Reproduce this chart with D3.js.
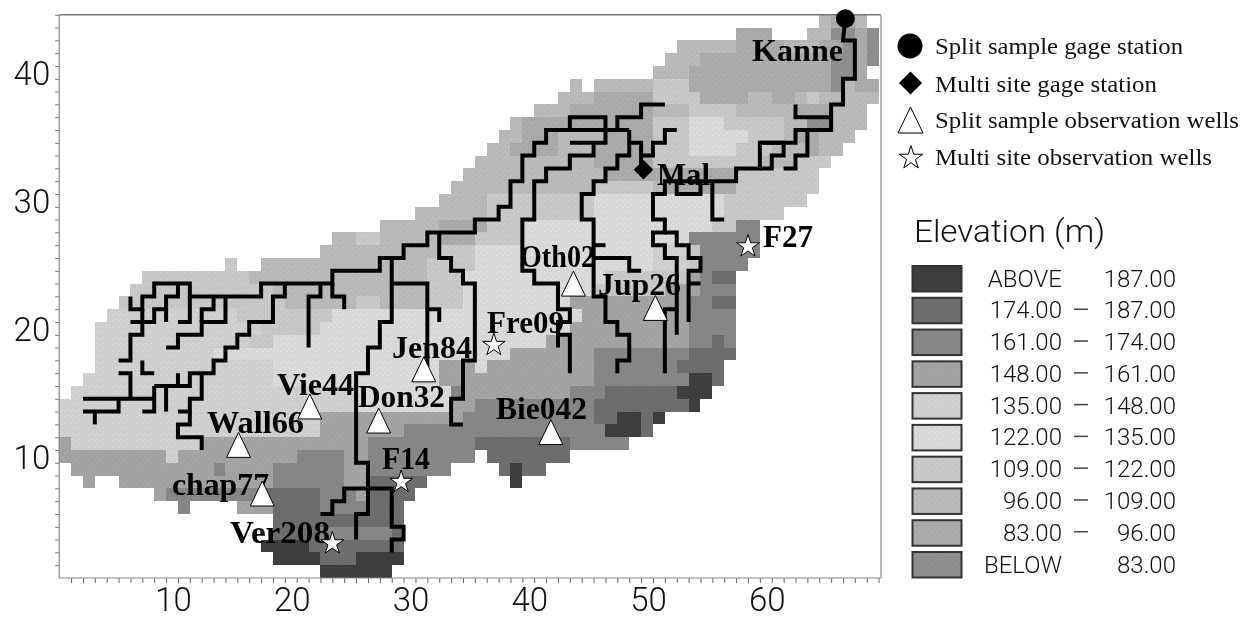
<!DOCTYPE html>
<html>
<head>
<meta charset="utf-8">
<style>
  html, body { margin: 0; background: #fff; }
  svg { display: block; filter: blur(0.45px); }
  .tick-num { font: 300 33px Roboto, sans-serif; fill: #111; }
  .well-label { font: bold 30.5px "Liberation Serif", serif; fill: #000; }
  .key-label { font: 24px "Liberation Serif", serif; fill: #111; }
  .range-label { font: 300 24px Roboto, sans-serif; fill: #111; }
  .domain { display: none; }
</style>
<script src="https://cdn.jsdelivr.net/npm/d3@7"></script>
</head>
<body>
<svg id="chart" width="1251" height="619"></svg>
<script>
// elevation classes, top of the legend first
const classKeys = ["A", "B", "C", "D", "E", "F", "G", "H", "I", "J"]
const classLow = ["ABOVE", "174.00", "161.00", "148.00", "135.00", "122.00", "109.00", "96.00", "83.00", "BELOW"]
const classHigh = ["187.00", "187.00", "174.00", "161.00", "148.00", "135.00", "122.00", "109.00", "96.00", "83.00"]

// grid: first column, then class+run length ("." is no data). Index 0 is the bottom row
const gridRows = [
  "22 A6",
  "18 A4 B3 A4",
  "17 A4 B8",
  "18 B4 C6 B1",
  "18 B11",
  "10 C1 .4 D3 B4 C4 B3",
  "8 D1 C3 C5 B5 C3 D1 B4",
  "2 D1 .2 D13 C6 D2 B5 .7 A1",
  "1 D12 C1 D4 C6 D2 C7 .4 B1 A1 B2",
  "0 D9 E1 D10 C4 D2 C9 .1 B7",
  "0 D1 E11 D14 C3 C6 B8 C5",
  "0 E22 D7 C17 A3 B1",
  "0 E22 D12 C11 B2 A2 B1 A1",
  "0 E25 F8 D2 C10 B8 A1",
  "1 E24 F8 C1 D9 C3 B6 A3",
  "2 E16 F14 D2 D11 C8 A2 B1",
  "3 E15 F14 D3 F1 D9 C7 B4",
  "3 E10 F25 D7 C8 B4",
  "3 E13 G2 F23 D12 C2 B1 C1",
  "3 E14 G5 F21 D10 C4",
  "4 E11 G8 F10 F11 D2 D7 C4",
  "5 G14 H6 G2 H4 G3 F9 D10 C2 B2",
  "6 G12 H13 G3 F11 G6 D2 D1 C1 C2",
  "7 G9 H15 G3 F12 G7 D1 C1 B2",
  "14 G1 .2 H14 G4 F15 E3 G1 C4",
  "22 H10 G3 F15 E3 G1 C5",
  "23 H2 G2 H5 I3 G4 F14 C6",
  "27 H5 I4 G3 F6 F5 F5 G2 C2",
  "30 H6 G9 F5 F6 G5",
  "32 H4 G9 F5 F6 G7",
  "33 H12 G5 H1 I6 G7",
  "34 H12 I11 G7",
  "35 H10 I5 G4 G5 H3 G3",
  "36 H2 I4 H3 I5 G3 F4 G3 H3 I1 H2",
  "37 H2 I3 H4 I4 G3 F5 G3 H1 I2 H3",
  "38 H1 I8 I3 G3 F3 G5 H2 J2 H3",
  "40 H3 I7 H3 G4 H5 I3 H3",
  "42 H3 I5 G4 I4 H2 I2 H1 G1 H5",
  "43 H1 .1 H5 G3 I9 I3 J1 H1 I2",
  "50 H3 I12 J2 I1",
  "51 H3 I11 J2 I1 J1",
  "52 H5 I4 H3 I2 J1 I1 J1",
  "57 I3 .3 H2 J2 I1 J1",
  "64 H1 I2 H1"
]

// stream network as [x, y] grid nodes
const streams = [
  [[66.2, 43.7], [66, 42], [67, 42], [67, 39], [66, 39], [66, 37], [65, 37], [65, 35], [62, 35], [62, 34], [59, 34], [59, 32], [57, 32], [57, 31], [51, 31], [51, 30], [50, 30], [50, 28], [51, 28], [51, 27], [50, 27], [50, 26], [51, 26], [51, 25], [52, 25], [52, 21], [51, 21], [51, 16]],
  [[63, 35], [63, 33], [62, 33], [62, 32], [61, 32]],
  [[59, 34], [61, 34], [61, 33], [60, 33], [60, 32], [59, 32]],
  [[62, 37], [62, 36], [65, 36]],
  [[55, 31], [55, 28], [56, 28]],
  [[52, 31], [52, 30], [54, 30], [54, 31]],
  [[51, 27], [52, 27], [52, 26], [53, 26], [53, 25], [54, 25], [54, 24], [53, 24], [53, 23], [54, 23]],
  [[53, 23], [53, 20]],
  [[52, 21], [52, 19]],
  [[49, 32], [49, 34], [48, 34]],
  [[49, 33], [50, 33], [50, 34], [51, 34], [51, 35], [52, 35]],
  [[47, 35], [47, 36], [49, 36], [49, 37], [51, 37]],
  [[48, 35], [48, 33], [47, 33], [47, 32], [46, 32], [46, 31], [45, 31], [45, 30], [44, 30], [44, 28], [45, 28], [45, 22], [46, 22], [46, 20], [47, 20], [47, 19], [48, 19], [48, 17], [47, 17], [47, 16]],
  [[45, 26], [46, 26]],
  [[45, 25], [48, 25], [48, 24], [49, 24]],
  [[43, 35], [43, 36], [46, 36], [46, 34], [43, 34]],
  [[45, 34], [45, 33], [43, 33], [43, 32], [41, 32], [41, 31], [40, 31], [40, 28], [39, 28], [39, 24], [40, 24], [40, 23], [42, 23], [42, 21], [43, 21], [43, 20], [42, 20], [42, 18]],
  [[42, 19], [43, 19], [43, 16]],
  [[48, 35], [41, 35], [41, 34], [40, 34], [40, 33], [39, 33], [39, 31], [38, 31], [38, 29], [37, 29], [37, 28], [35, 28], [35, 27], [31, 27], [31, 26], [29, 26], [29, 25], [27, 25], [27, 24], [23, 24], [23, 23], [17, 23], [17, 22], [11, 22], [11, 23], [8, 23], [8, 22], [7, 22], [7, 21], [6, 21], [6, 22]],
  [[32, 27], [32, 25], [33, 25], [33, 24], [34, 24], [34, 23], [35, 23], [35, 17], [34, 17], [34, 14], [33, 14], [33, 12], [34, 12]],
  [[28, 25], [28, 20], [27, 20], [27, 18], [26, 18], [26, 16], [25, 16], [25, 9], [26, 9], [26, 5], [25, 5], [25, 3]],
  [[26, 7], [24, 7], [24, 6], [23, 6], [23, 5], [22, 5]],
  [[26, 7], [28, 7], [28, 4], [29, 4], [29, 3], [28, 3], [28, 2]],
  [[28, 23], [31, 23], [31, 16.5]],
  [[31, 21], [32, 21], [32, 20]],
  [[23, 23], [23, 22], [24, 22], [24, 21]],
  [[22, 23], [22, 22], [21, 22], [21, 18]],
  [[19, 23], [19, 22], [18, 22], [18, 20], [16, 20], [16, 19], [15, 19], [15, 18], [14, 18], [14, 17], [13, 17], [13, 16], [11, 16], [11, 15], [8, 15]],
  [[12, 16], [12, 14], [11, 14], [11, 13], [10, 13]],
  [[11, 13], [11, 12], [10, 12], [10, 11], [12, 11], [12, 10]],
  [[10, 16], [10, 15]],
  [[9, 15], [9, 13]],
  [[8, 15], [8, 13], [7, 13]],
  [[8, 16], [7, 16], [7, 17]],
  [[2, 14], [8, 14]],
  [[2, 13], [5, 13], [5, 14]],
  [[3, 13], [3, 12]],
  [[6, 14], [6, 16], [5, 16]],
  [[5, 17], [6, 17], [6, 19], [7, 19], [7, 21]],
  [[7, 20], [6, 20]],
  [[7, 20], [8, 20], [8, 21], [9, 21], [9, 22], [10, 22], [10, 23]],
  [[9, 21], [9, 20]],
  [[9, 18], [10, 18], [10, 19], [12, 19], [12, 20], [14, 20], [14, 22]],
  [[10, 20], [11, 20], [11, 22]],
  [[12, 20], [12, 21], [13, 21], [13, 22]]
]

// sites
const gageNames = ["Kanne", "Mal"]
const gageTypes = ["split", "multi"]
const gageX = [66.2, 49.2]
const gageY = [43.7, 31.9]

const wellNames = ["Oth02", "Jup26", "Jen84", "Vie44", "Don32", "Wall66", "chap77", "Bie042", "Fre09", "F14", "Ver208", "F27"]
const wellTypes = ["split", "split", "split", "split", "split", "split", "split", "split", "multi", "multi", "multi", "multi"]
const wellX = [43.3, 50.2, 30.7, 21.1, 26.9, 15.1, 17.1, 41.4, 36.6, 28.8, 23, 58]
const wellY = [23, 21.1, 16.3, 13.4, 12.3, 10.4, 6.6, 11.4, 18.2, 7.5, 2.7, 25.9]

const keyLabels = ["Split sample gage station", "Multi site gage station", "Split sample observation wells", "Multi site observation wells"]

// layout, not data
const classFill = { A: "#3d3d3d", B: "#6c6c6c", C: "#858585", D: "#a2a2a2", E: "#cecece", F: "#d8d8d8", G: "#c6c6c6", H: "#b8b8b8", I: "#a9a9a9", J: "#8d8d8d" }
const labelBox = {
  Kanne: [752, 60.7, 91], Mal: [657, 185, 53], F27: [763, 246.7, 50], Oth02: [520, 266.7, 75], Jup26: [598, 295, 83],
  Fre09: [487, 333, 77], Jen84: [392, 357.7, 80], Vie44: [277, 395, 77], Don32: [358, 406.7, 87], Wall66: [207, 432.7, 97],
  chap77: [172, 495, 97], F14: [382, 469, 48], Ver208: [230, 542.7, 100], Bie042: [496, 419, 91]
}

const svg = d3.select("#chart")
const x = d3.scaleLinear().domain([0, 69.2]).range([59.2, 881])
const y = d3.scaleLinear().domain([0, 44]).range([578, 14.8])

// expand the run lengths into cells
const cells = []
gridRows.forEach((row, r) => {
  const parts = row.split(" ")
  let col = +parts[0]
  parts.slice(1).forEach((p) => {
    const n = +p.slice(1)
    if (p[0] !== ".") d3.range(n).forEach((k) => cells.push({ col: col + k, row: r, key: p[0] }))
    col += n
  })
})

// light speckle over the fill, like the scanned original
const defs = svg.append("defs")
classKeys.forEach((k) => {
  const pat = defs.append("pattern").attr("id", "fill" + k).attr("patternUnits", "userSpaceOnUse").attr("width", 6).attr("height", 6)
  pat.append("rect").attr("width", 6).attr("height", 6).attr("fill", classFill[k])
  const speck = d3.color(classFill[k]).brighter(0.25)
  pat.append("rect").attr("x", 1).attr("y", 1).attr("width", 1).attr("height", 1).attr("fill", speck)
  pat.append("rect").attr("x", 4).attr("y", 3).attr("width", 1).attr("height", 1).attr("fill", speck)
})

svg.append("g").attr("shape-rendering", "crispEdges").selectAll("rect").data(cells).enter().append("rect")
  .attr("x", (d) => x(d.col))
  .attr("y", (d) => y(d.row + 1))
  .attr("width", (d) => x(d.col + 1) - x(d.col))
  .attr("height", (d) => y(d.row) - y(d.row + 1))
  .attr("fill", (d) => `url(#fill${d.key})`)

// frame
svg.append("path").attr("d", `M${x.range()[0]},${y.range()[1]}H${x.range()[1]}`).attr("stroke", "#777").attr("stroke-width", 1.5).attr("fill", "none")
svg.append("path").attr("d", `M${x.range()[1]},${y.range()[1]}V${y.range()[0]}`).attr("stroke", "#bbb").attr("stroke-width", 2).attr("fill", "none")

const xAxis = d3.axisBottom(x).tickValues(d3.range(1, 70)).tickSize(5).tickPadding(4.5).tickFormat((d) => (d % 10 === 0 ? d : ""))
const yAxis = d3.axisLeft(y).tickValues(d3.range(1, 45)).tickSize(4).tickPadding(5).tickFormat((d) => (d % 10 === 0 ? d : ""))

const gx = svg.append("g").attr("transform", `translate(0,${y.range()[0]})`).call(xAxis)
const gy = svg.append("g").attr("transform", `translate(${x.range()[0]},0)`).call(yAxis)
gx.selectAll("line").attr("stroke", "#666")
gy.selectAll("line").attr("stroke", "#777")
gx.selectAll("text").attr("class", "tick-num").attr("x", -5)
gy.selectAll("text").attr("class", "tick-num").attr("dy", "0.6em").attr("y", -1)
svg.append("path").attr("d", `M${x.range()[0]},${y.range()[0]}H${x.range()[1]}`).attr("stroke", "#888").attr("stroke-width", 1.2)
svg.append("path").attr("d", `M${x.range()[0]},${y.range()[0]}V${y.range()[1]}`).attr("stroke", "#888").attr("stroke-width", 1.2)

// streams
const streamLine = d3.line().x((d) => x(d[0])).y((d) => y(d[1]))
svg.append("g").selectAll("path").data(streams).enter().append("path")
  .attr("d", streamLine)
  .attr("fill", "none")
  .attr("stroke", "#000")
  .attr("stroke-width", 4)
  .attr("stroke-linejoin", "miter")

// site labels sit under the markers
const allNames = gageNames.concat(wellNames)
svg.append("g").selectAll("text").data(allNames).enter().append("text")
  .attr("class", "well-label")
  .attr("x", (d) => labelBox[d][0])
  .attr("y", (d) => labelBox[d][1])
  .attr("textLength", (d) => labelBox[d][2])
  .attr("lengthAdjust", "spacingAndGlyphs")
  .text((d) => d)

// the wells' triangles are a bit taller than equilateral, centred on their box
const tallTriangle = (w, h) => ({
  draw(ctx) {
    ctx.moveTo(0, -h / 2)
    ctx.lineTo(w / 2, h / 2)
    ctx.lineTo(-w / 2, h / 2)
    ctx.closePath()
  }
})
const triangle = d3.symbol().type(tallTriangle(24, 25))
const star = d3.symbol().type(d3.symbolStar).size(160)

svg.append("g").selectAll("path").data(wellNames).enter().append("path")
  .attr("transform", (d, i) => `translate(${x(wellX[i])},${y(wellY[i])})`)
  .attr("d", (d, i) => (wellTypes[i] === "split" ? triangle() : star()))
  .attr("fill", "#fff")
  .attr("stroke", "#000")
  .attr("stroke-width", 1)

gageNames.forEach((name, i) => {
  const g = svg.append("g").attr("transform", `translate(${x(gageX[i])},${y(gageY[i])})`)
  if (gageTypes[i] === "split") g.append("circle").attr("r", 9.5).attr("fill", "#000")
  else g.append("path").attr("d", d3.symbol().type(d3.symbolDiamond2).size(245)()).attr("fill", "#000")
})

// symbol key
const keyY = [54, 92, 128, 165]
const keyMark = [46, 83, 120, 158]
const key = svg.append("g")
key.append("circle").attr("cx", 910).attr("cy", keyMark[0]).attr("r", 12.5).attr("fill", "#000")
key.append("path").attr("transform", `translate(910.5,${keyMark[1]})`).attr("d", d3.symbol().type(d3.symbolDiamond2).size(340)()).attr("fill", "#000")
key.append("path").attr("transform", `translate(910.5,${keyMark[2]})`).attr("d", d3.symbol().type(tallTriangle(25, 26))()).attr("fill", "#fff").attr("stroke", "#000").attr("stroke-width", 1)
key.append("path").attr("transform", `translate(911,${keyMark[3]})`).attr("d", d3.symbol().type(d3.symbolStar).size(170)()).attr("fill", "#fff").attr("stroke", "#000").attr("stroke-width", 1)
const keyWidth = [248, 222, 304, 277]
key.selectAll("text").data(keyLabels).enter().append("text")
  .attr("class", "key-label")
  .attr("x", 935)
  .attr("y", (d, i) => keyY[i])
  .attr("textLength", (d, i) => keyWidth[i])
  .attr("lengthAdjust", "spacingAndGlyphs")
  .text((d) => d)

// elevation legend
const legend = svg.append("g")
legend.append("text").attr("x", 914).attr("y", 241.7).attr("textLength", 191).attr("lengthAdjust", "spacingAndGlyphs")
  .attr("style", "font: 300 31px Roboto, sans-serif; fill: #111").text("Elevation (m)")

const rowY = d3.scaleLinear().domain([0, 9]).range([265, 551])
const rows = legend.selectAll("g").data(classKeys).enter().append("g")
  .attr("transform", (d, i) => `translate(0,${rowY(i)})`)
rows.append("rect").attr("x", 912.5).attr("y", 1).attr("width", 49).attr("height", 25.5)
  .attr("fill", (d) => `url(#fill${d})`).attr("stroke", "#333").attr("stroke-width", 2)
rows.append("text").attr("class", "range-label").attr("x", 1062).attr("y", 21.5).attr("text-anchor", "end")
  .text((d, i) => classLow[i])
rows.filter((d) => d !== "A" && d !== "J").append("path").attr("d", "M1074,12.5H1088").attr("stroke", "#444").attr("stroke-width", 1.5)
rows.append("text").attr("class", "range-label").attr("x", 1176).attr("y", 21.5).attr("text-anchor", "end")
  .text((d, i) => classHigh[i])
</script>
</body>
</html>
